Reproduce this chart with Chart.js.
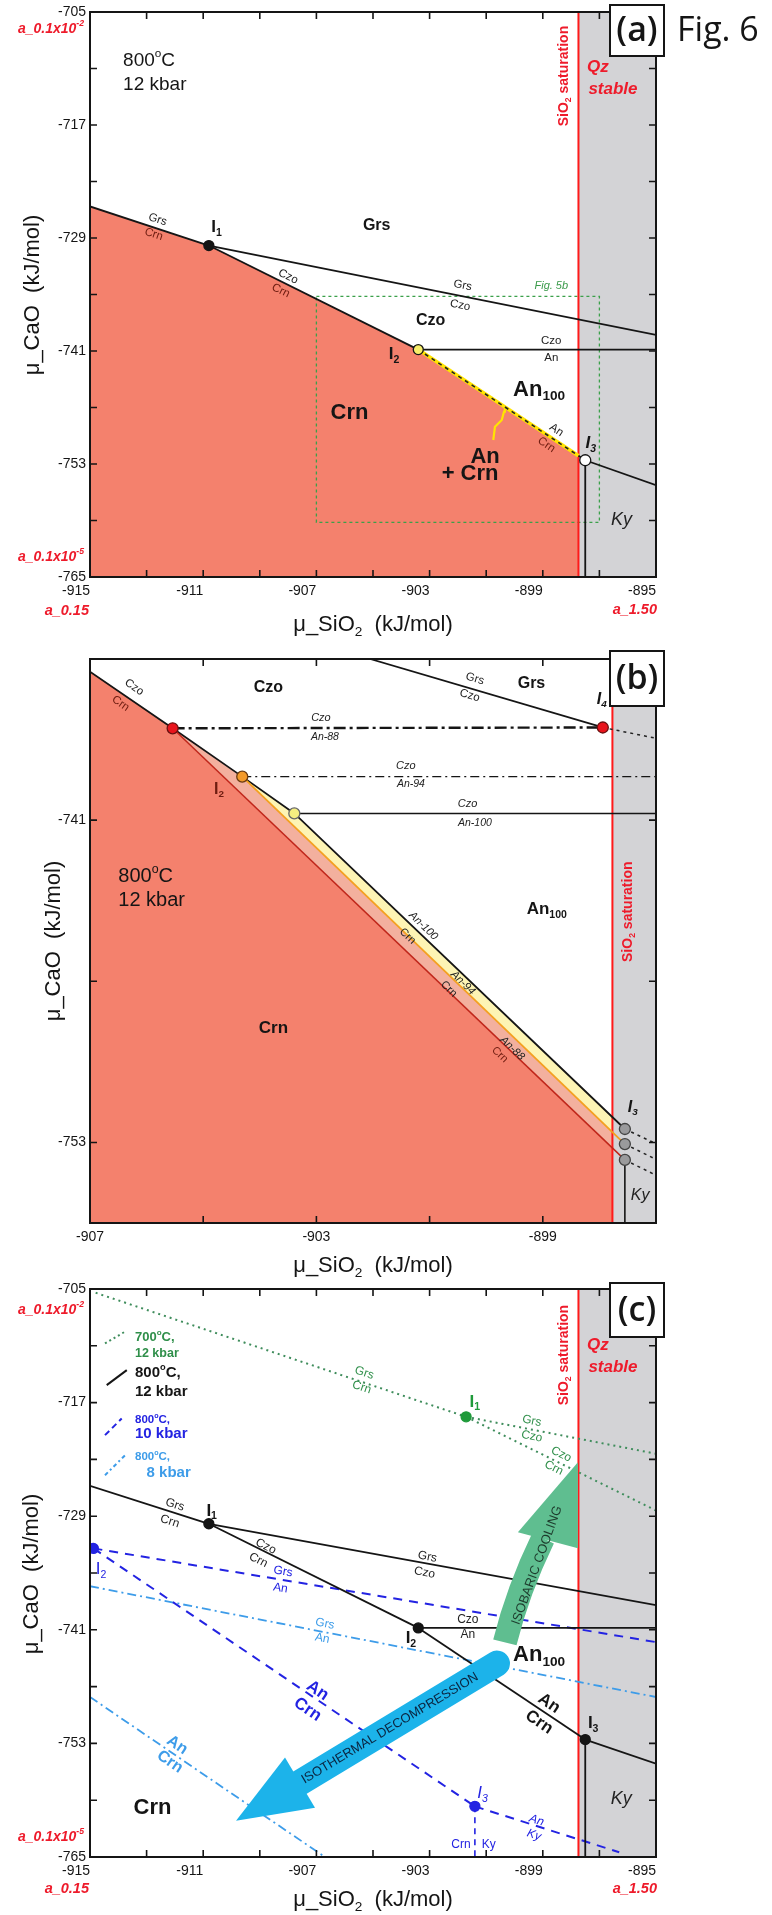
<!DOCTYPE html>
<html><head><meta charset="utf-8">
<script src="https://cdn.jsdelivr.net/npm/chart.js@4/dist/chart.umd.min.js"></script>
<style>
html,body{margin:0;padding:0;background:#fff;}
body{width:772px;height:1915px;position:relative;overflow:hidden;}
canvas{position:absolute;left:0;}
</style>
</head><body>
<canvas id="ca" width="772" height="640" style="top:0px"></canvas>
<canvas id="cb" width="772" height="640" style="top:640px"></canvas>
<canvas id="cc" width="772" height="635" style="top:1280px"></canvas>
<script>
// ================= DATA =================
// axes
const xRangeAC = [-915, -895], yRangeAC = [-765, -705];
const xRangeB = [-907, -897], yRangeB = [-756, -735];
const xLabelsAC = [-915, -911, -907, -903, -899, -895];
const yLabelsAC = [-765, -753, -741, -729, -717, -705];
const xTicksAC = [-913, -911, -909, -907, -905, -903, -901, -899, -897];
const yTicksAC = [-759, -753, -747, -741, -735, -729, -723, -717, -711];
const xLabelsB = [-907, -903, -899];
const yLabelsB = [-753, -741];
const xTicksB = [-905, -903, -901, -899];
const yTicksB = [-753, -747, -741];

// panel (a): 800 C, 12 kbar
const satA = -897.74;                       // SiO2 saturation
const a_I1 = [-910.8, -729.8], a_I2 = [-903.4, -740.85], a_I3 = [-897.5, -752.6];
const a_GrsCrn = [[-915, -725.65], a_I1];
const a_GrsCzo = [a_I1, [-895, -739.3]];
const a_CzoCrn = [a_I1, a_I2];
const a_CzoAn = [a_I2, [-895, -740.85]];
const a_AnCrn = [a_I2, a_I3];
const a_AnCrnSat = [a_I2, [satA, -752.12]];
const a_AnKy = [a_I3, [-895, -755.25]];
const a_CrnKy = [a_I3, [-897.5, -765]];
const a_CrnField = [[-915, -725.65], a_I1, a_I2, [satA, -752.12]];
const a_QzField = [[satA, -705], [-895, -705]];
const a_Sat = [[satA, -705], [satA, -765]];
const a_Fig5bBox = [[-907, -735.2], [-897, -735.2], [-897, -759.2], [-907, -759.2], [-907, -735.2]];
const a_Squiggle = [[-900.75, -750.45], [-900.69, -749.04], [-900.45, -748.33], [-900.37, -747.44], [-900.34, -746.9]];

// panel (b): enlargement, An88 / An94 / An100
const satB = -897.77;
const b_Pred = [-905.54, -737.58], b_Porange = [-904.31, -739.38], b_Pyellow = [-903.39, -740.75];
const b_I4 = [-897.94, -737.55];
const b_I3 = [[-897.55, -752.5], [-897.55, -753.06], [-897.55, -753.65]];
const b_CzoCrn = [[-907, -735.47], b_Pred, b_Porange, b_Pyellow, b_I3[0]];
const b_An94Crn = [b_Porange, b_I3[1]];
const b_An88Crn = [b_Pred, b_I3[2]];
const b_GrsCzo = [[-902.05, -735], b_I4];
const b_CzoAn88 = [b_Pred, b_I4];
const b_CzoAn88ext = [b_I4, [-897, -737.95]];
const b_CzoAn94 = [b_Porange, [-897, -739.38]];
const b_CzoAn100 = [b_Pyellow, [-897, -740.75]];
const b_AnKy1 = [b_I3[0], [-897, -753.05]];
const b_AnKy2 = [b_I3[1], [-897, -753.63]];
const b_AnKy3 = [b_I3[2], [-897, -754.22]];
const b_CrnKy = [b_I3[2], [-897.55, -756]];
const b_CrnField = [[-907, -735.47], b_Pred, [satB, -753.21]];
const b_Band88 = [b_Pred, b_Porange, [satB, -752.62], [satB, -753.21], b_Pred];
const b_Band94 = [b_Porange, b_Pyellow, [satB, -752.06], [satB, -752.62], b_Porange];
const b_QzField = [[satB, -735], [-897, -735]];
const b_Sat = [[satB, -735], [satB, -756]];

// panel (c): 700C/12kbar, 800C/12kbar, 800C/10kbar, 800C/8kbar
const c_I1 = [-910.8, -729.8], c_I2 = [-903.4, -740.8], c_I3 = [-897.5, -752.6];
const c_GrsCrn = [[-915, -725.8], c_I1];
const c_GrsCzo = [c_I1, [-895, -738.4]];
const c_CzoCrn = [c_I1, c_I2];
const c_CzoAn = [c_I2, [-895, -740.8]];
const c_AnCrn = [c_I2, c_I3];
const c_AnKy = [c_I3, [-895, -755.15]];
const c_CrnKy = [c_I3, [-897.5, -765]];
const g_I1 = [-901.71, -718.5];
const g_GrsCrn = [[-914.8, -705.4], g_I1];
const g_GrsCzo = [g_I1, [-895, -722.4]];
const g_CzoCrn = [g_I1, [-895, -728.4]];
const p10_I2 = [-914.88, -732.4], p10_I3 = [-901.4, -759.65];
const p10_GrsAn = [p10_I2, [-895, -742.3]];
const p10_AnCrn = [p10_I2, p10_I3];
const p10_AnKy = [p10_I3, [-896.3, -764.5]];
const p10_CrnKy = [p10_I3, [-901.4, -765]];
const p8_GrsAn = [[-915, -736.4], [-895, -748.1]];
const p8_AnCrn = [[-915, -748.1], [-906.7, -765]];

// ================= STYLE =================
const FONT = '"Liberation Sans", Arial, Helvetica, sans-serif';
const OPEN = '"Open Sans", "Liberation Sans", sans-serif';
const RED = '#ee1b2b', SALMON = '#f4816d', GREY = '#d3d3d6', BLUE = '#2323e2', LBLUE = '#3d9ce9';
const GREEN = '#3f8d5c', GREENT = '#2f8f4a', DKRED = '#6e1c10', BLK = '#151515';

const P = pts => pts.map(p => ({x: p[0], y: p[1]}));
function L(pts, color, width, dash, order) {
  return {data: P(pts), borderColor: color, borderWidth: width, borderDash: dash || [], pointRadius: 0,
    fill: false, tension: 0, order: order === undefined ? 5 : order, showLine: true};
}
function F(pts, color, mode, order) {
  return {data: P(pts), borderColor: 'rgba(0,0,0,0)', borderWidth: 0, backgroundColor: color, fill: mode,
    pointRadius: 0, tension: 0, order: order === undefined ? 10 : order, showLine: true};
}
function D(pt, fc, sc, r) {
  return {data: P([pt]), showLine: false, pointRadius: r || 5, pointBackgroundColor: fc,
    pointBorderColor: sc || BLK, pointBorderWidth: 1.3, order: 0};
}

// rich text: _{sub} ^{sup}
function parseRich(t) {
  const out = []; let i = 0, buf = '';
  while (i < t.length) {
    if ((t[i] === '_' || t[i] === '^') && t[i + 1] === '{') {
      if (buf) { out.push({s: buf, k: 0}); buf = ''; }
      const j = t.indexOf('}', i);
      out.push({s: t.slice(i + 2, j), k: t[i] === '_' ? 1 : 2});
      i = j + 1;
    } else { buf += t[i]; i++; }
  }
  if (buf) out.push({s: buf, k: 0});
  return out;
}
function drawRich(ctx, o, x, y) {
  const size = o.s || 11.5, fam = o.f || FONT, w = o.w || 'normal', st = o.i ? 'italic' : 'normal';
  const segs = parseRich(o.t);
  const fontFor = k => `${st} ${w} ${k ? size * 0.62 : size}px ${fam}`;
  let total = 0;
  segs.forEach(sg => { ctx.font = fontFor(sg.k); sg.wd = ctx.measureText(sg.s).width; total += sg.wd; });
  ctx.save();
  ctx.translate(x, y);
  if (o.r) ctx.rotate(o.r * Math.PI / 180);
  let cx = o.a === 'left' ? 0 : (o.a === 'right' ? -total : -total / 2);
  ctx.fillStyle = o.c || '#222';
  ctx.textBaseline = 'middle'; ctx.textAlign = 'left';
  segs.forEach(sg => {
    ctx.font = fontFor(sg.k);
    const dy = sg.k === 1 ? size * 0.32 : (sg.k === 2 ? -size * 0.36 : 0);
    ctx.fillText(sg.s, cx, dy);
    cx += sg.wd;
  });
  ctx.restore();
}

function makeDecor(cfg) {
  return {
    id: 'decor',
    afterDatasetsDraw(chart) {
      const ctx = chart.ctx, ca = chart.chartArea;
      const X = v => chart.scales.x.getPixelForValue(v), Y = v => chart.scales.y.getPixelForValue(v);
      ctx.save();
      ctx.beginPath(); ctx.rect(ca.left, ca.top, ca.right - ca.left, ca.bottom - ca.top); ctx.clip();
      (cfg.shapes || []).forEach(fn => fn(ctx, X, Y));
      ctx.restore();
      ctx.save();
      ctx.strokeStyle = BLK; ctx.lineWidth = 1.6;
      cfg.xTk.forEach(v => {
        const p = X(v);
        ctx.beginPath(); ctx.moveTo(p, ca.top); ctx.lineTo(p, ca.top + 7);
        ctx.moveTo(p, ca.bottom); ctx.lineTo(p, ca.bottom - 7); ctx.stroke();
      });
      cfg.yTk.forEach(v => {
        const p = Y(v);
        ctx.beginPath(); ctx.moveTo(ca.left, p); ctx.lineTo(ca.left + 7, p);
        ctx.moveTo(ca.right, p); ctx.lineTo(ca.right - 7, p); ctx.stroke();
      });
      ctx.lineWidth = 2;
      ctx.strokeRect(ca.left, ca.top, ca.right - ca.left, ca.bottom - ca.top);
      ctx.restore();
    },
    afterDraw(chart) {
      const ctx = chart.ctx;
      const X = v => chart.scales.x.getPixelForValue(v), Y = v => chart.scales.y.getPixelForValue(v);
      (cfg.texts || []).forEach(o => {
        const px = o.px !== undefined ? o.px : X(o.x);
        const py = o.py !== undefined ? o.py : Y(o.y);
        drawRich(ctx, o, px, py);
      });
      (cfg.boxes || []).forEach(b => {
        ctx.save();
        ctx.fillStyle = '#fff'; ctx.fillRect(b.x0, b.y0, b.x1 - b.x0, b.y1 - b.y0);
        ctx.strokeStyle = BLK; ctx.lineWidth = 2; ctx.strokeRect(b.x0, b.y0, b.x1 - b.x0, b.y1 - b.y0);
        ctx.restore();
        drawRich(ctx, {t: b.t, s: 34, f: OPEN, w: '600', c: BLK}, (b.x0 + b.x1) / 2, (b.y0 + b.y1) / 2 + 1);
      });
    }
  };
}

function makeChart(id, H, top, bottom, xr, yr, xLab, yLab, xTk, yTk, xAlign, datasets, texts, boxes, shapes) {
  return new Chart(document.getElementById(id), {
    type: 'line',
    data: {datasets},
    options: {
      responsive: false, animation: false, events: [], devicePixelRatio: 1,
      layout: {padding: {left: 0, right: 116, top: top, bottom: 0}},
      plugins: {legend: {display: false}, tooltip: {enabled: false}},
      scales: {
        x: {type: 'linear', min: xr[0], max: xr[1],
          grid: {display: false, drawTicks: false}, border: {display: false},
          afterBuildTicks: s => { s.ticks = xLab.map(v => ({value: v})); },
          afterFit: s => { s.height = H - bottom; s.paddingLeft = 0; s.paddingRight = 0; },
          ticks: {autoSkip: false, maxRotation: 0, minRotation: 0, align: xAlign, padding: 6, color: BLK,
            font: {family: FONT, size: 14}, callback: v => String(v)}},
        y: {type: 'linear', min: yr[0], max: yr[1],
          grid: {display: false, drawTicks: false}, border: {display: false},
          afterBuildTicks: s => { s.ticks = yLab.map(v => ({value: v})); },
          afterFit: s => { s.width = 90; s.paddingTop = 0; s.paddingBottom = 0; },
          ticks: {autoSkip: false, padding: 4, color: BLK, font: {family: FONT, size: 14}, callback: v => String(v)}}
      }
    },
    plugins: [makeDecor({xTk, yTk, texts, boxes, shapes})]
  });
}

// ================= PANEL (a) =================
const dsA = [
  F(a_QzField, GREY, 'start', 12),
  F(a_CrnField, SALMON, 'start', 11),
  L(a_Fig5bBox, '#3ba04a', 1.3, [3, 3], 7),
  L(a_Sat, '#ff1a1a', 2, [], 6),
  L(a_GrsCrn, BLK, 1.8),
  L(a_GrsCzo, BLK, 1.8),
  L(a_CzoCrn, BLK, 1.8),
  L(a_CzoAn, BLK, 1.8),
  L(a_AnCrn, BLK, 1.8),
  L(a_AnKy, BLK, 1.8),
  L(a_CrnKy, BLK, 1.8),
  L(a_Squiggle, '#ffe400', 2.2, [], 4),
  L(a_AnCrnSat, '#ffe400', 3.6, [], 4),
  L(a_AnCrnSat, '#222', 1.6, [4, 4], 3),
  D(a_I1, BLK, BLK, 5),
  D(a_I2, '#f7ee6a', BLK, 5),
  D(a_I3, '#ffffff', BLK, 5.5),
];
const txA = [
  {t: '800^{o}C', x: -913.83, y: -710.2, s: 19, a: 'left', c: BLK},
  {t: '12 kbar', x: -913.83, y: -712.75, s: 19, a: 'left', c: BLK},
  {t: 'Grs', x: -904.87, y: -727.66, s: 16, w: 'bold', c: BLK},
  {t: 'Czo', x: -902.96, y: -737.8, s: 16, w: 'bold', c: BLK},
  {t: 'Crn', x: -905.83, y: -747.6, s: 22, w: 'bold', c: BLK},
  {t: 'An_{100}', x: -899.13, y: -745.1, s: 22, w: 'bold', c: BLK},
  {t: 'An', x: -901.04, y: -752.2, s: 22, w: 'bold', c: BLK},
  {t: '+ Crn', x: -901.57, y: -754.1, s: 22, w: 'bold', c: BLK},
  {t: 'Ky', x: -896.22, y: -758.95, s: 18, i: 1},
  {t: 'Qz', x: -897.05, y: -710.9, s: 17, w: 'bold', i: 1, c: RED},
  {t: 'stable', x: -896.52, y: -713.2, s: 17, w: 'bold', i: 1, c: RED},
  {t: 'SiO_{2} saturation', x: -898.26, y: -711.8, s: 14, w: 'bold', c: RED, r: -90},
  {t: 'Fig. 5b', x: -898.7, y: -734.04, s: 11, i: 1, c: '#3a9a4a'},
  {t: 'I_{1}', x: -910.53, y: -727.9, s: 17, w: 'bold', c: BLK},
  {t: 'I_{2}', x: -904.26, y: -741.4, s: 17, w: 'bold', c: BLK},
  {t: 'I_{3}', x: -897.3, y: -750.85, s: 17, w: 'bold', i: 1, c: BLK},
  {t: 'Grs', x: -912.61, y: -727.04, r: 18},
  {t: 'Crn', x: -912.75, y: -728.6, r: 18, c: DKRED},
  {t: 'Czo', x: -908.0, y: -733.1, r: 26},
  {t: 'Crn', x: -908.26, y: -734.6, r: 26, c: DKRED},
  {t: 'Grs', x: -901.83, y: -734.04, r: 11},
  {t: 'Czo', x: -901.92, y: -736.15, r: 11},
  {t: 'Czo', x: -898.7, y: -739.9},
  {t: 'An', x: -898.7, y: -741.7},
  {t: 'An', x: -898.52, y: -749.4, r: 34},
  {t: 'Crn', x: -898.87, y: -750.96, r: 34, c: DKRED},
  {t: 'μ_CaO  (kJ/mol)', px: 33, py: 295, s: 22, r: -90, c: BLK},
  {t: 'μ_SiO_{2}  (kJ/mol)', px: 373, py: 625, s: 22, c: BLK},
  {t: 'a_0.1x10^{-2}', px: 84, py: 29, s: 14, w: 'bold', i: 1, c: RED, a: 'right'},
  {t: 'a_0.1x10^{-5}', px: 84, py: 557, s: 14, w: 'bold', i: 1, c: RED, a: 'right'},
  {t: 'a_0.15', px: 89, py: 611, s: 14.5, w: 'bold', i: 1, c: RED, a: 'right'},
  {t: 'a_1.50', px: 657, py: 610, s: 14.5, w: 'bold', i: 1, c: RED, a: 'right'},
  {t: 'Fig. 6', px: 677, py: 31, s: 34, f: OPEN, a: 'left', c: BLK},
];
makeChart('ca', 640, 12, 577, xRangeAC, yRangeAC, xLabelsAC, yLabelsAC, xTicksAC, yTicksAC, 'end',
  dsA, txA, [{x0: 610, y0: 5, x1: 664, y1: 56, t: '(a)'}], []);

// ================= PANEL (b) =================
const dsB = [
  F(b_QzField, GREY, 'start', 13),
  F(b_CrnField, SALMON, 'start', 12),
  F(b_Band88, '#f3b09e', 'shape', 11),
  F(b_Band94, '#fdf4b4', 'shape', 11),
  L(b_Sat, '#ff1a1a', 2, [], 6),
  L(b_An88Crn, '#c0261a', 1.5, [], 5),
  L(b_An94Crn, '#f4a020', 1.8, [], 5),
  L(b_CzoCrn, BLK, 1.8),
  L(b_GrsCzo, BLK, 1.8),
  L(b_CzoAn88, BLK, 2.4, [12, 4, 3, 4]),
  L(b_CzoAn88ext, '#222', 1.5, [3, 4]),
  L(b_CzoAn94, BLK, 1.2, [9, 4, 2, 4]),
  L(b_CzoAn100, BLK, 1.5),
  L(b_AnKy1, '#222', 1.5, [3, 4]),
  L(b_AnKy2, '#222', 1.5, [3, 4]),
  L(b_AnKy3, '#222', 1.5, [3, 4]),
  L(b_CrnKy, BLK, 1.6),
  D(b_Pred, '#e8141c', '#6a1010', 5.5),
  D(b_Porange, '#f39a2a', '#6a3a10', 5.5),
  D(b_Pyellow, '#f6ef80', '#666', 5.5),
  D(b_I4, '#e8141c', '#6a1010', 5.5),
  D(b_I3[0], '#9a9a9c', '#444', 5.5),
  D(b_I3[1], '#9a9a9c', '#444', 5.5),
  D(b_I3[2], '#9a9a9c', '#444', 5.5),
];
const txB = [
  {t: 'Czo', x: -903.85, y: -736.05, s: 16, w: 'bold', c: BLK},
  {t: 'Grs', x: -899.2, y: -735.9, s: 16, w: 'bold', c: BLK},
  {t: 'I_{4}', x: -897.96, y: -736.51, s: 16, w: 'bold', i: 1, c: BLK},
  {t: 'Grs', x: -900.2, y: -735.74, r: 16},
  {t: 'Czo', x: -900.29, y: -736.36, r: 16},
  {t: 'Czo', x: -906.22, y: -736.05, r: 35},
  {t: 'Crn', x: -906.46, y: -736.66, r: 35, c: DKRED},
  {t: 'Czo', x: -902.92, y: -737.2, i: 1, s: 11},
  {t: 'An-88', x: -902.85, y: -737.92, i: 1, s: 10.5},
  {t: 'Czo', x: -901.42, y: -738.97, i: 1, s: 11},
  {t: 'An-94', x: -901.33, y: -739.65, i: 1, s: 10.5},
  {t: 'Czo', x: -900.33, y: -740.41, i: 1, s: 11},
  {t: 'An-100', x: -900.2, y: -741.1, i: 1, s: 10.5},
  {t: 'I_{2}', x: -904.72, y: -739.85, s: 16, w: 'bold', c: DKRED},
  {t: '800^{o}C', x: -906.5, y: -743.1, s: 20, a: 'left', c: BLK},
  {t: '12 kbar', x: -906.5, y: -744.0, s: 20, a: 'left', c: BLK},
  {t: 'An_{100}', x: -898.93, y: -744.33, s: 17, w: 'bold', c: BLK},
  {t: 'Crn', x: -903.76, y: -748.74, s: 17, w: 'bold', c: BLK},
  {t: 'SiO_{2} saturation', x: -897.5, y: -744.41, s: 14, w: 'bold', c: RED, r: -90},
  {t: 'An-100', x: -901.11, y: -744.94, r: 44, i: 1, s: 11},
  {t: 'Crn', x: -901.39, y: -745.32, r: 44, s: 11},
  {t: 'An-94', x: -900.41, y: -747.06, r: 44, i: 1, s: 11},
  {t: 'Crn', x: -900.66, y: -747.29, r: 44, s: 11},
  {t: 'An-88', x: -899.54, y: -749.5, r: 44, i: 1, s: 11},
  {t: 'Crn', x: -899.76, y: -749.73, r: 44, s: 11, c: DKRED},
  {t: 'I_{3}', x: -897.41, y: -751.7, s: 16, w: 'bold', i: 1, c: BLK},
  {t: 'Ky', x: -897.28, y: -754.97, s: 16, i: 1},
  {t: 'μ_CaO  (kJ/mol)', px: 54, py: 301, s: 22, r: -90, c: BLK},
  {t: 'μ_SiO_{2}  (kJ/mol)', px: 373, py: 626, s: 22, c: BLK},
];
makeChart('cb', 640, 19, 583, xRangeB, yRangeB, xLabelsB, yLabelsB, xTicksB, yTicksB, 'center',
  dsB, txB, [{x0: 610, y0: 11, x1: 664, y1: 66, t: '(b)'}], []);

// ================= PANEL (c) =================
// arrow geometry (annotation shapes, in data units)
const arrowCool = {tail: [-900.34, -742.33], ctrl: [-899.88, -736.83], base: [-898.99, -731.34],
  headL: [-899.88, -730.7], headR: [-897.76, -732.39], tip: [-897.76, -723.3]};
const arrowDecomp = {tail: [-900.62, -744.56], base: [-907.58, -757.14],
  headL: [-908.11, -754.5], headR: [-907.05, -759.79], tip: [-909.84, -761.16]};
function drawArrows(ctx, X, Y) {
  let A = arrowCool;
  ctx.save();
  ctx.strokeStyle = '#5fbe90'; ctx.fillStyle = '#5fbe90'; ctx.lineWidth = 24; ctx.lineCap = 'butt';
  ctx.beginPath(); ctx.moveTo(X(A.tail[0]), Y(A.tail[1]));
  ctx.quadraticCurveTo(X(A.ctrl[0]), Y(A.ctrl[1]), X(A.base[0]), Y(A.base[1])); ctx.stroke();
  ctx.beginPath(); ctx.moveTo(X(A.headL[0]), Y(A.headL[1])); ctx.lineTo(X(A.tip[0]), Y(A.tip[1]));
  ctx.lineTo(X(A.headR[0]), Y(A.headR[1])); ctx.closePath(); ctx.fill();
  A = arrowDecomp;
  ctx.strokeStyle = '#1cb3ea'; ctx.fillStyle = '#1cb3ea'; ctx.lineWidth = 26; ctx.lineCap = 'round';
  ctx.beginPath(); ctx.moveTo(X(A.tail[0]), Y(A.tail[1])); ctx.lineTo(X(A.base[0]), Y(A.base[1])); ctx.stroke();
  ctx.beginPath(); ctx.moveTo(X(A.headL[0]), Y(A.headL[1])); ctx.lineTo(X(A.tip[0]), Y(A.tip[1]));
  ctx.lineTo(X(A.headR[0]), Y(A.headR[1])); ctx.closePath(); ctx.fill();
  ctx.restore();
}
// legend swatches (data units)
const lgGreen = [[-914.47, -710.74], [-913.76, -709.5]];
const lgBlack = [[-914.41, -715.15], [-913.70, -713.57]];
const lgBlue = [[-914.47, -720.44], [-913.88, -718.68]];
const lgLBlue = [[-914.47, -724.67], [-913.76, -722.56]];

const dsC = [
  F(a_QzField, GREY, 'start', 12),
  L(a_Sat, '#ff1a1a', 2, [], 6),
  L(g_GrsCrn, GREEN, 2, [2, 4], 5),
  L(g_GrsCzo, GREEN, 2, [2, 4], 5),
  L(g_CzoCrn, GREEN, 2, [2, 4], 5),
  L(c_GrsCrn, BLK, 1.8),
  L(c_GrsCzo, BLK, 1.8),
  L(c_CzoCrn, BLK, 1.8),
  L(c_CzoAn, BLK, 1.8),
  L(c_AnCrn, BLK, 1.8),
  L(c_AnKy, BLK, 1.8),
  L(c_CrnKy, BLK, 1.8),
  L(p10_GrsAn, BLUE, 2, [9, 7]),
  L(p10_AnCrn, BLUE, 2, [9, 7]),
  L(p10_AnKy, BLUE, 2, [9, 7]),
  L(p10_CrnKy, BLUE, 1.6, [6, 5]),
  L(p8_GrsAn, LBLUE, 1.8, [9, 4, 2, 4]),
  L(p8_AnCrn, LBLUE, 1.8, [9, 4, 2, 4]),
  L(lgGreen, GREEN, 2, [2, 3]),
  L(lgBlack, BLK, 2),
  L(lgBlue, BLUE, 2, [6, 4]),
  L(lgLBlue, LBLUE, 2, [4, 3, 2, 3]),
  D(c_I1, BLK, BLK, 5), D(c_I2, BLK, BLK, 5), D(c_I3, BLK, BLK, 5),
  D(g_I1, '#1f9a3a', '#1f9a3a', 5),
  D(p10_I2, BLUE, BLUE, 5), D(p10_I3, BLUE, BLUE, 5),
];
const txC = [
  {t: '700^{o}C,', x: -913.41, y: -710.13, s: 13, w: 'bold', c: GREENT, a: 'left'},
  {t: '12 kbar', x: -913.41, y: -711.77, s: 12.5, w: 'bold', c: GREENT, a: 'left'},
  {t: '800^{o}C,', x: -913.41, y: -713.88, s: 15, w: 'bold', c: BLK, a: 'left'},
  {t: '12 kbar', x: -913.41, y: -715.84, s: 15, w: 'bold', c: BLK, a: 'left'},
  {t: '800^{o}C,', x: -913.41, y: -718.86, s: 11.5, w: 'bold', c: BLUE, a: 'left'},
  {t: '10 kbar', x: -913.41, y: -720.34, s: 15, w: 'bold', c: BLUE, a: 'left'},
  {t: '800^{o}C,', x: -913.41, y: -722.77, s: 11.5, w: 'bold', c: LBLUE, a: 'left'},
  {t: '8 kbar', x: -913.0, y: -724.46, s: 15, w: 'bold', c: LBLUE, a: 'left'},
  {t: 'Grs', x: -905.31, y: -713.86, r: 18, c: GREENT, s: 12},
  {t: 'Crn', x: -905.4, y: -715.4, r: 18, c: GREENT, s: 12},
  {t: 'I_{1}', x: -901.4, y: -716.95, s: 17, w: 'bold', c: '#1f9a3a'},
  {t: 'Grs', x: -899.39, y: -718.94, r: 11, c: GREENT, s: 12},
  {t: 'Czo', x: -899.39, y: -720.58, r: 11, c: GREENT, s: 12},
  {t: 'Czo', x: -898.35, y: -722.47, r: 26, c: GREENT, s: 12},
  {t: 'Crn', x: -898.61, y: -723.9, r: 26, c: GREENT, s: 12},
  {t: 'Grs', x: -912.0, y: -727.8, r: 18, s: 12},
  {t: 'Crn', x: -912.18, y: -729.54, r: 18, s: 12},
  {t: 'I_{1}', x: -910.7, y: -728.44, s: 17, w: 'bold', c: BLK},
  {t: 'Czo', x: -908.79, y: -732.19, r: 26, s: 12},
  {t: 'Crn', x: -909.05, y: -733.66, r: 26, s: 12},
  {t: 'Grs', x: -903.08, y: -733.3, r: 11, s: 12},
  {t: 'Czo', x: -903.18, y: -734.97, r: 11, s: 12},
  {t: 'I_{2}', x: -903.66, y: -741.9, s: 17, w: 'bold', c: BLK},
  {t: 'Czo', x: -901.65, y: -739.92, s: 12},
  {t: 'An', x: -901.65, y: -741.47, s: 12},
  {t: 'An_{100}', x: -899.13, y: -743.68, s: 22, w: 'bold', c: BLK},
  {t: 'An', x: -898.78, y: -748.77, s: 17, w: 'bold', r: 34, c: BLK},
  {t: 'Crn', x: -899.13, y: -750.76, s: 17, w: 'bold', r: 34, c: BLK},
  {t: 'I_{3}', x: -897.22, y: -750.88, s: 17, w: 'bold', c: BLK},
  {t: 'Ky', x: -896.23, y: -758.9, s: 18, i: 1},
  {t: 'Crn', x: -912.79, y: -759.8, s: 22, w: 'bold', c: BLK},
  {t: 'Qz', x: -897.05, y: -711.0, s: 17, w: 'bold', i: 1, c: RED},
  {t: 'stable', x: -896.52, y: -713.3, s: 17, w: 'bold', i: 1, c: RED},
  {t: 'SiO_{2} saturation', x: -898.26, y: -711.98, s: 14, w: 'bold', c: RED, r: -90},
  {t: 'I_{2}', x: -914.61, y: -734.6, s: 17, c: BLUE},
  {t: 'Grs', x: -908.18, y: -734.85, r: 9.5, s: 12, c: BLUE},
  {t: 'An', x: -908.27, y: -736.6, r: 9.5, s: 12, c: BLUE},
  {t: 'An', x: -906.96, y: -747.43, s: 17, w: 'bold', r: 34, c: BLUE},
  {t: 'Crn', x: -907.31, y: -749.42, s: 17, w: 'bold', r: 34, c: BLUE},
  {t: 'I_{3}', x: -901.13, y: -758.26, s: 17, i: 1, c: BLUE},
  {t: 'An', x: -899.22, y: -761.13, r: 18, s: 12, i: 1, c: BLUE},
  {t: 'Ky', x: -899.31, y: -762.68, r: 18, s: 12, i: 1, c: BLUE},
  {t: 'Crn', x: -901.55, y: -763.7, s: 12, c: BLUE, a: 'right'},
  {t: 'Ky', x: -901.16, y: -763.7, s: 12, c: BLUE, a: 'left'},
  {t: 'Grs', x: -906.7, y: -740.37, r: 11, s: 12, c: LBLUE},
  {t: 'An', x: -906.79, y: -741.9, r: 11, s: 12, c: LBLUE},
  {t: 'An', x: -911.92, y: -753.18, s: 16, w: 'bold', r: 34, c: LBLUE},
  {t: 'Crn', x: -912.18, y: -754.94, s: 16, w: 'bold', r: 34, c: LBLUE},
  {t: 'ISOBARIC COOLING', x: -899.2, y: -734.19, s: 13, r: -70, c: '#1d3b2c'},
  {t: 'ISOTHERMAL DECOMPRESSION', x: -904.4, y: -751.4, s: 13, r: -31, c: '#0b2540'},
  {t: 'μ_CaO  (kJ/mol)', px: 32, py: 294, s: 22, r: -90, c: BLK},
  {t: 'μ_SiO_{2}  (kJ/mol)', px: 373, py: 620, s: 22, c: BLK},
  {t: 'a_0.1x10^{-2}', px: 84, py: 30, s: 14, w: 'bold', i: 1, c: RED, a: 'right'},
  {t: 'a_0.1x10^{-5}', px: 84, py: 557, s: 14, w: 'bold', i: 1, c: RED, a: 'right'},
  {t: 'a_0.15', px: 89, py: 608.5, s: 14.5, w: 'bold', i: 1, c: RED, a: 'right'},
  {t: 'a_1.50', px: 657, py: 608.5, s: 14.5, w: 'bold', i: 1, c: RED, a: 'right'},
];
makeChart('cc', 635, 9, 577, xRangeAC, yRangeAC, xLabelsAC, yLabelsAC, xTicksAC, yTicksAC, 'end',
  dsC, txC, [{x0: 610, y0: 3, x1: 664, y1: 57, t: '(c)'}], [drawArrows]);
</script>
</body></html>
